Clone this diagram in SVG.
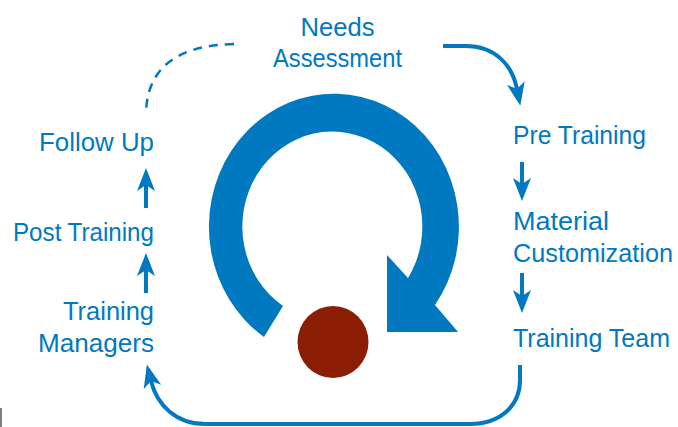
<svg xmlns="http://www.w3.org/2000/svg" width="678" height="427" viewBox="0 0 678 427">
  <style>
    .lbl { font-family: "Liberation Sans", Arial, sans-serif; font-size: 25px; fill: #0079c1; }
    .end { text-anchor: end; }
    .mid { text-anchor: middle; }
    .link { fill: none; stroke: #0079c1; stroke-width: 4; }
    .dash { fill: none; stroke: #0079c1; stroke-width: 2.5; stroke-dasharray: 9 7; }
  </style>
  <defs>
    <marker id="head" markerUnits="userSpaceOnUse" viewBox="-8 -10 26 20" markerWidth="26" markerHeight="20" refX="0" refY="0" orient="auto">
      <path d="M 17 0 L -6 -9 L 0 0 L -6 9 Z" fill="#0079c1"/>
    </marker>
  </defs>
  <rect width="678" height="427" fill="#ffffff"/>

  <!-- central cycle symbol -->
  <g id="cycle">
    <path d="M 264 337 A 125 133 0 1 1 435 305 L 458 332 L 387 332 L 387 255 L 408 278 A 90 95 0 1 0 283 306 Z" fill="#0079c1"/>
    <ellipse cx="333" cy="342" rx="35.5" ry="36" fill="#8a1d04"/>
  </g>

  <!-- stray edge mark -->
  <line x1="1" y1="408" x2="1" y2="427" stroke="#555555" stroke-width="1.5"/>

  <!-- stages -->
  <g id="needs-assessment">
    <text class="lbl mid" x="337.5" y="36" textLength="74" lengthAdjust="spacingAndGlyphs">Needs</text>
    <text class="lbl mid" x="337.5" y="67" textLength="129" lengthAdjust="spacingAndGlyphs">Assessment</text>
  </g>
  <g id="pre-training">
    <text class="lbl" x="513" y="144" textLength="133" lengthAdjust="spacingAndGlyphs">Pre Training</text>
  </g>
  <g id="material-customization">
    <text class="lbl" x="513" y="230" textLength="96" lengthAdjust="spacingAndGlyphs">Material</text>
    <text class="lbl" x="513" y="262" textLength="160" lengthAdjust="spacingAndGlyphs">Customization</text>
  </g>
  <g id="training-team">
    <text class="lbl" x="513" y="347" textLength="157" lengthAdjust="spacingAndGlyphs">Training Team</text>
  </g>
  <g id="training-managers">
    <text class="lbl end" x="154" y="320" textLength="91" lengthAdjust="spacingAndGlyphs">Training</text>
    <text class="lbl end" x="154" y="352" textLength="116" lengthAdjust="spacingAndGlyphs">Managers</text>
  </g>
  <g id="post-training">
    <text class="lbl end" x="154" y="241" textLength="141" lengthAdjust="spacingAndGlyphs">Post Training</text>
  </g>
  <g id="follow-up">
    <text class="lbl end" x="154" y="151" textLength="115" lengthAdjust="spacingAndGlyphs">Follow Up</text>
  </g>

  <!-- connectors -->
  <g id="connectors">
    <path class="dash" d="M 234 44 Q 147 46 146 114"/>
    <path class="link" d="M 443 46 L 466 46 C 494 46 512 64 517 89" marker-end="url(#head)"/>
    <path class="link" d="M 522 162 L 522 184" marker-end="url(#head)"/>
    <path class="link" d="M 522 273 L 522 296" marker-end="url(#head)"/>
    <path class="link" d="M 520 365 L 520 380 C 520 406 500 424 470 424 L 205 424 C 176 424 157 405 151 381" marker-end="url(#head)"/>
    <path class="link" d="M 146 293 L 146 270" marker-end="url(#head)"/>
    <path class="link" d="M 146 208 L 146 185" marker-end="url(#head)"/>
  </g>
</svg>
